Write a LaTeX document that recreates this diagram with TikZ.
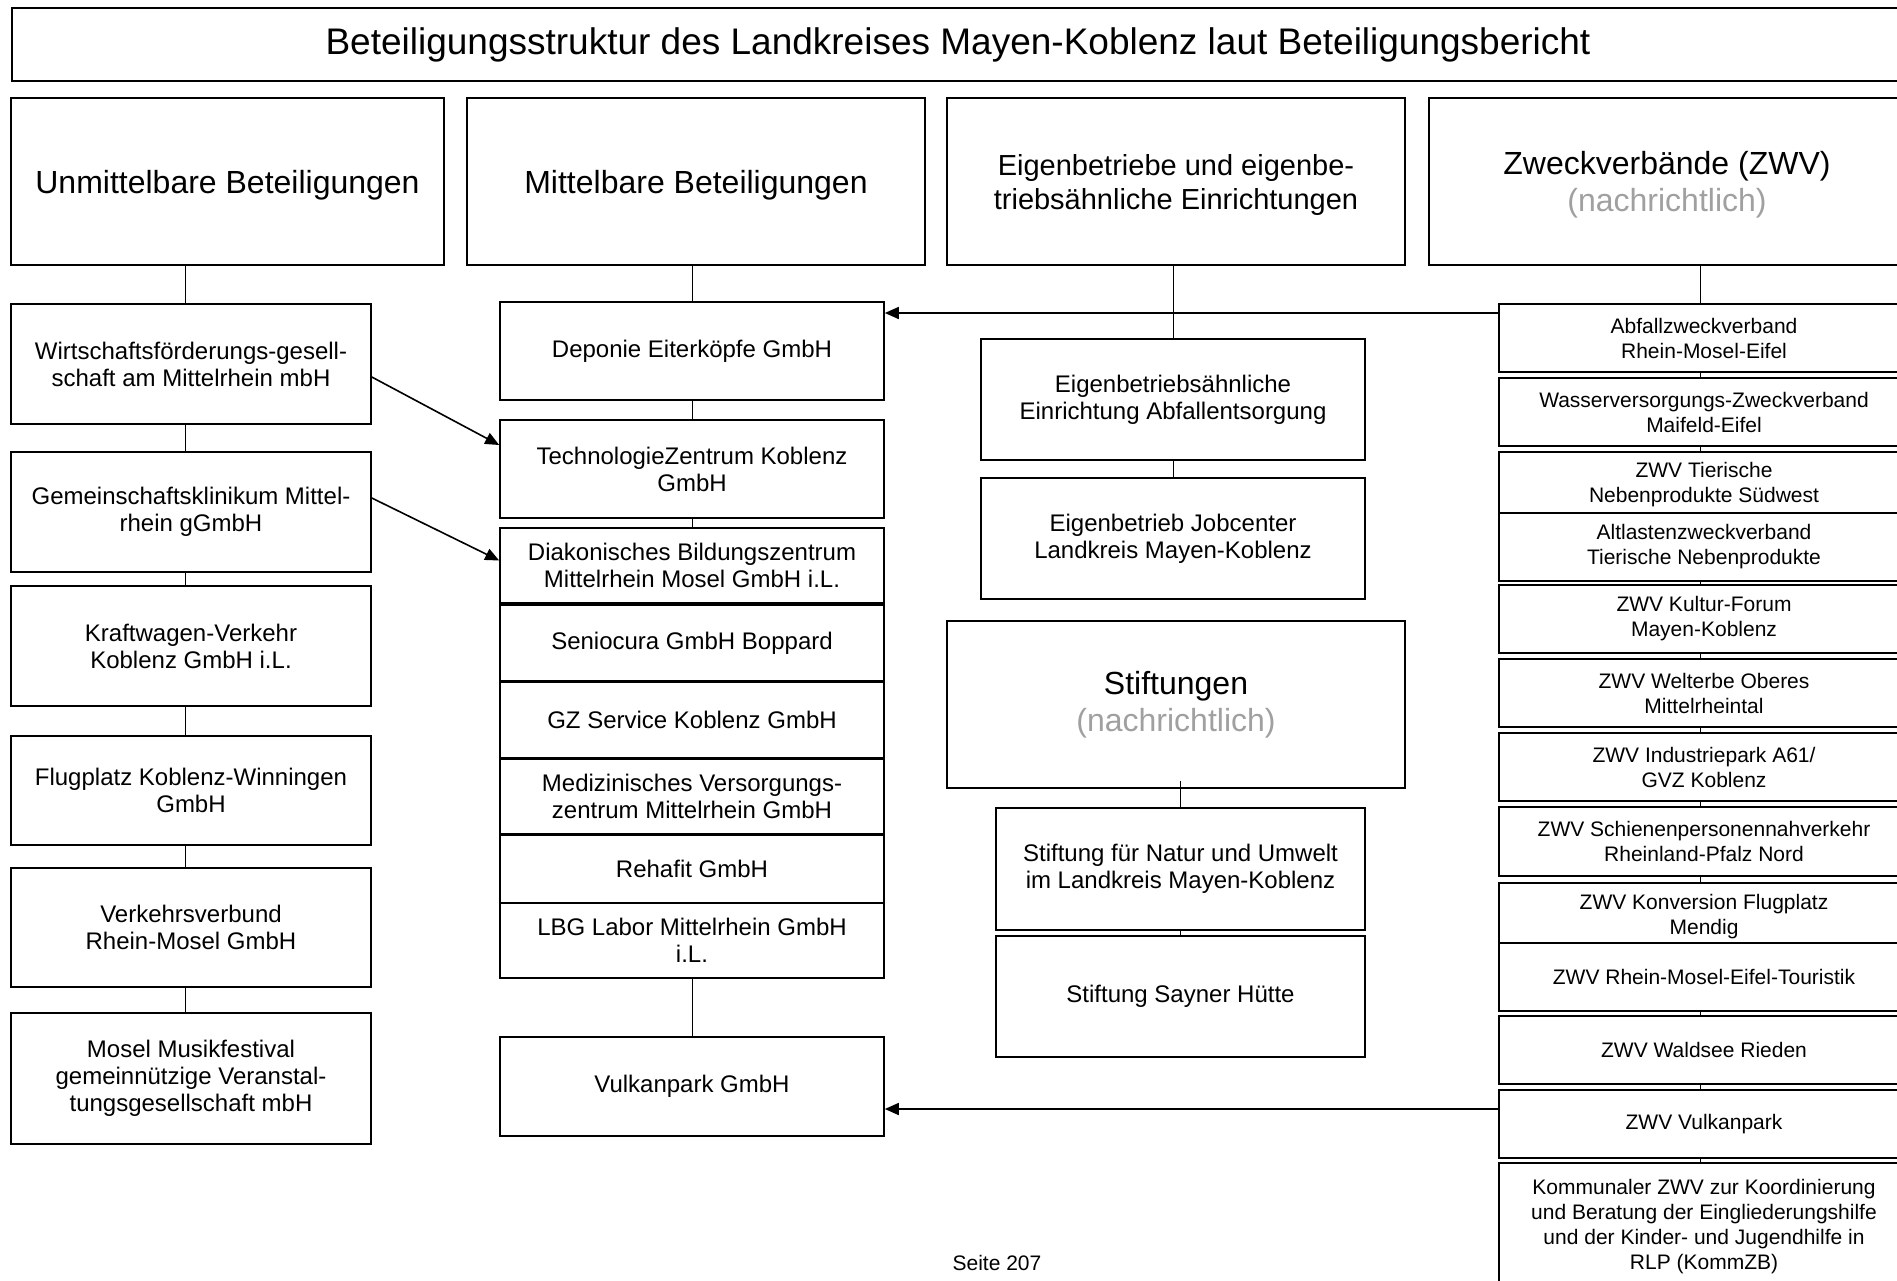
\documentclass[tikz,border=0pt]{standalone}
\usepackage{fontspec}
\setmainfont{Liberation Sans}
\usetikzlibrary{arrows.meta}
\definecolor{nachgrau}{RGB}{160,160,160}

\begin{document}
\begin{tikzpicture}[x=1pt,y=-1pt,
    rahmen/.style={draw,line width=1.6pt,fill=white,align=center,inner sep=0pt},
    titel/.style={rahmen,font=\fontsize{37}{42}\selectfont},
    kopf/.style={rahmen,minimum height=167pt,font=\fontsize{32}{37}\selectfont},
    einsbox/.style={rahmen,minimum width=360pt,font=\fontsize{24}{27}\selectfont},
    zweibox/.style={rahmen,minimum width=384pt,font=\fontsize{24}{27}\selectfont},
    zwvbox/.style={rahmen,minimum width=410pt,font=\fontsize{21}{25}\selectfont},
    normal/.style={},
    tief/.style={text depth=-7pt},
    linie/.style={line width=1pt},
    pfeil/.style={line width=1.6pt,-{Triangle[length=14pt,width=12pt]}}]
  \clip (0,0) rectangle (1897,1280);

  % Titel und Spaltenkoepfe
  \node[titel,minimum width=1892pt,minimum height=73pt] (titel) at (958,44.5)
    {Beteiligungsstruktur des Landkreises Mayen-Koblenz laut Beteiligungsbericht};
  \node[kopf,minimum width=433pt,text depth=-5pt] (kopfA) at (227.5,181.5) {Unmittelbare Beteiligungen};
  \node[kopf,minimum width=458pt,text depth=-5pt] (kopfB) at (696,181.5) {Mittelbare Beteiligungen};
  \node[kopf,minimum width=458pt,text depth=-1pt,font=\fontsize{29}{34}\selectfont] (kopfC) at (1176,181.5)
    {Eigenbetriebe und eigenbe-\\triebsähnliche Einrichtungen};
  \node[kopf,minimum width=476pt,text depth=0pt] (kopfD) at (1667,181.5)
    {Zweckverbände (ZWV)\\{\color{nachgrau}(nachrichtlich)}};

  % unmittelbare Beteiligungen
  \node[einsbox,minimum height=120pt] (a1) at (191,364) {Wirtschaftsförderungs-gesell-\\schaft am Mittelrhein mbH};
  \node[einsbox,minimum height=120pt] (a2) at (191,512) {Gemeinschaftsklinikum Mittel-\\rhein gGmbH};
  \node[einsbox,minimum height=120pt] (a3) at (191,646) {Kraftwagen-Verkehr\\Koblenz GmbH i.L.};
  \node[einsbox,minimum height=109pt] (a4) at (191,790.5) {Flugplatz Koblenz-Winningen\\GmbH};
  \node[einsbox,minimum height=119pt] (a5) at (191,927.5) {Verkehrsverbund\\Rhein-Mosel GmbH};
  \node[einsbox,minimum height=131pt] (a6) at (191,1078.5) {Mosel Musikfestival\\gemeinnützige Veranstal-\\tungsgesellschaft mbH};

  % mittelbare Beteiligungen
  \node[zweibox,minimum height=98pt] (b1) at (692,351) {Deponie Eiterköpfe GmbH};
  \node[zweibox,minimum height=98pt] (b2) at (692,469) {TechnologieZentrum Koblenz\\GmbH};
  \node[zweibox,minimum height=75pt] (b3) at (692,565.5) {Diakonisches Bildungszentrum\\Mittelrhein Mosel GmbH i.L.};
  \node[zweibox,minimum height=76pt] (b4) at (692,643) {Seniocura GmbH Boppard};
  \node[zweibox,minimum height=76pt] (b5) at (692,720) {GZ Service Koblenz GmbH};
  \node[zweibox,minimum height=75pt] (b6) at (692,796.5) {Medizinisches Versorgungs-\\zentrum Mittelrhein GmbH};
  \node[zweibox,minimum height=68pt] (b7) at (692,869) {Rehafit GmbH};
  \node[zweibox,minimum height=75pt] (b8) at (692,940.5) {LBG Labor Mittelrhein GmbH\\i.L.};
  \node[zweibox,minimum height=99pt] (b9) at (692,1086.5) {Vulkanpark GmbH};

  % Eigenbetriebe und Stiftungen
  \node[zweibox,minimum height=121pt] (c1) at (1173,399.5) {Eigenbetriebsähnliche\\Einrichtung Abfallentsorgung};
  \node[zweibox,minimum height=121pt] (c2) at (1173,538.5) {Eigenbetrieb Jobcenter\\Landkreis Mayen-Koblenz};
  \node[kopf,minimum width=458pt] (stift) at (1176,704.5)
    {Stiftungen\\{\color{nachgrau}(nachrichtlich)}};
  \node[zweibox,minimum width=369pt,minimum height=122pt] (c3) at (1180.5,869)
    {Stiftung für Natur und Umwelt\\im Landkreis Mayen-Koblenz};
  \node[zweibox,minimum width=369pt,minimum height=121pt] (c4) at (1180.5,996.5) {Stiftung Sayner Hütte};

  % Zweckverbaende
  \foreach \n/\y/\h/\s/\t in {
      1/338/68/normal/{Abfallzweckverband\\Rhein-Mosel-Eifel},
      2/412/68/normal/{Wasserversorgungs-Zweckverband\\Maifeld-Eifel},
      3/482.5/61/tief/{ZWV Tierische\\Nebenprodukte Südwest},
      4/547/68/normal/{Altlastenzweckverband\\Tierische Nebenprodukte},
      5/619/68/normal/{ZWV Kultur-Forum\\Mayen-Koblenz},
      6/693/68/normal/{ZWV Welterbe Oberes\\Mittelrheintal},
      7/767/68/normal/{ZWV Industriepark A61/\\GVZ Koblenz},
      8/841.5/69/normal/{ZWV Schienenpersonennahverkehr\\Rheinland-Pfalz Nord},
      9/914/62/tief/{ZWV Konversion Flugplatz\\Mendig},
      10/977/68/normal/{ZWV Rhein-Mosel-Eifel-Touristik},
      11/1050/68/normal/{ZWV Waldsee Rieden},
      12/1124/68/normal/{ZWV Vulkanpark},
      13/1226.5/127/normal/{Kommunaler ZWV zur Koordinierung\\und Beratung der Eingliederungshilfe\\und der Kinder- und Jugendhilfe in\\RLP (KommZB)}}
    \node[zwvbox,\s,minimum height=\h pt] (d\n) at (1704,\y) {\t};

  \node[font=\fontsize{21}{25}\selectfont] (seite) at (997,1263) {Seite 207};

  % Verbindungen
  \draw[linie] (kopfA.south -| 185,0) -- (a1.north -| 185,0);
  \foreach \i/\j in {1/2,2/3,3/4,4/5,5/6}
    \draw[linie] (a\i.south -| 185,0) -- (a\j.north -| 185,0);
  \draw[linie] (kopfB.south -| b1.north) -- (b1.north);
  \draw[linie] (b1.south) -- (b2.north);
  \draw[linie] (b2.south) -- (b3.north);
  \draw[linie] (b8.south) -- (b9.north);
  \draw[linie] (kopfC.south -| c1.north) -- (c1.north);
  \draw[linie] (c1.south) -- (c2.north);
  \draw[linie] ([yshift=8pt]stift.south -| c3.north) -- (c3.north);
  \draw[linie] (c3.south) -- (c4.north);
  \draw[linie] (kopfD.south -| 1700,0) -- (d1.north -| 1700,0);
  \foreach \i/\j in {1/2,2/3,4/5,5/6,6/7,7/8,8/9,10/11,11/12,12/13}
    \draw[linie] (d\i.south -| 1700,0) -- (d\j.north -| 1700,0);

  % Pfeile
  \draw[pfeil] ([yshift=-13pt]a1.east) -- ([yshift=24pt]b2.west);
  \draw[pfeil] ([yshift=14pt]a2.east) -- ([yshift=5pt]b3.west);
  \draw[pfeil] ([yshift=25pt]d1.west) coordinate (p1) -- (p1 -| b1.east);
  \draw[pfeil] ([yshift=15pt]d12.west) coordinate (p2) -- (p2 -| b9.east);
\end{tikzpicture}
\end{document}
